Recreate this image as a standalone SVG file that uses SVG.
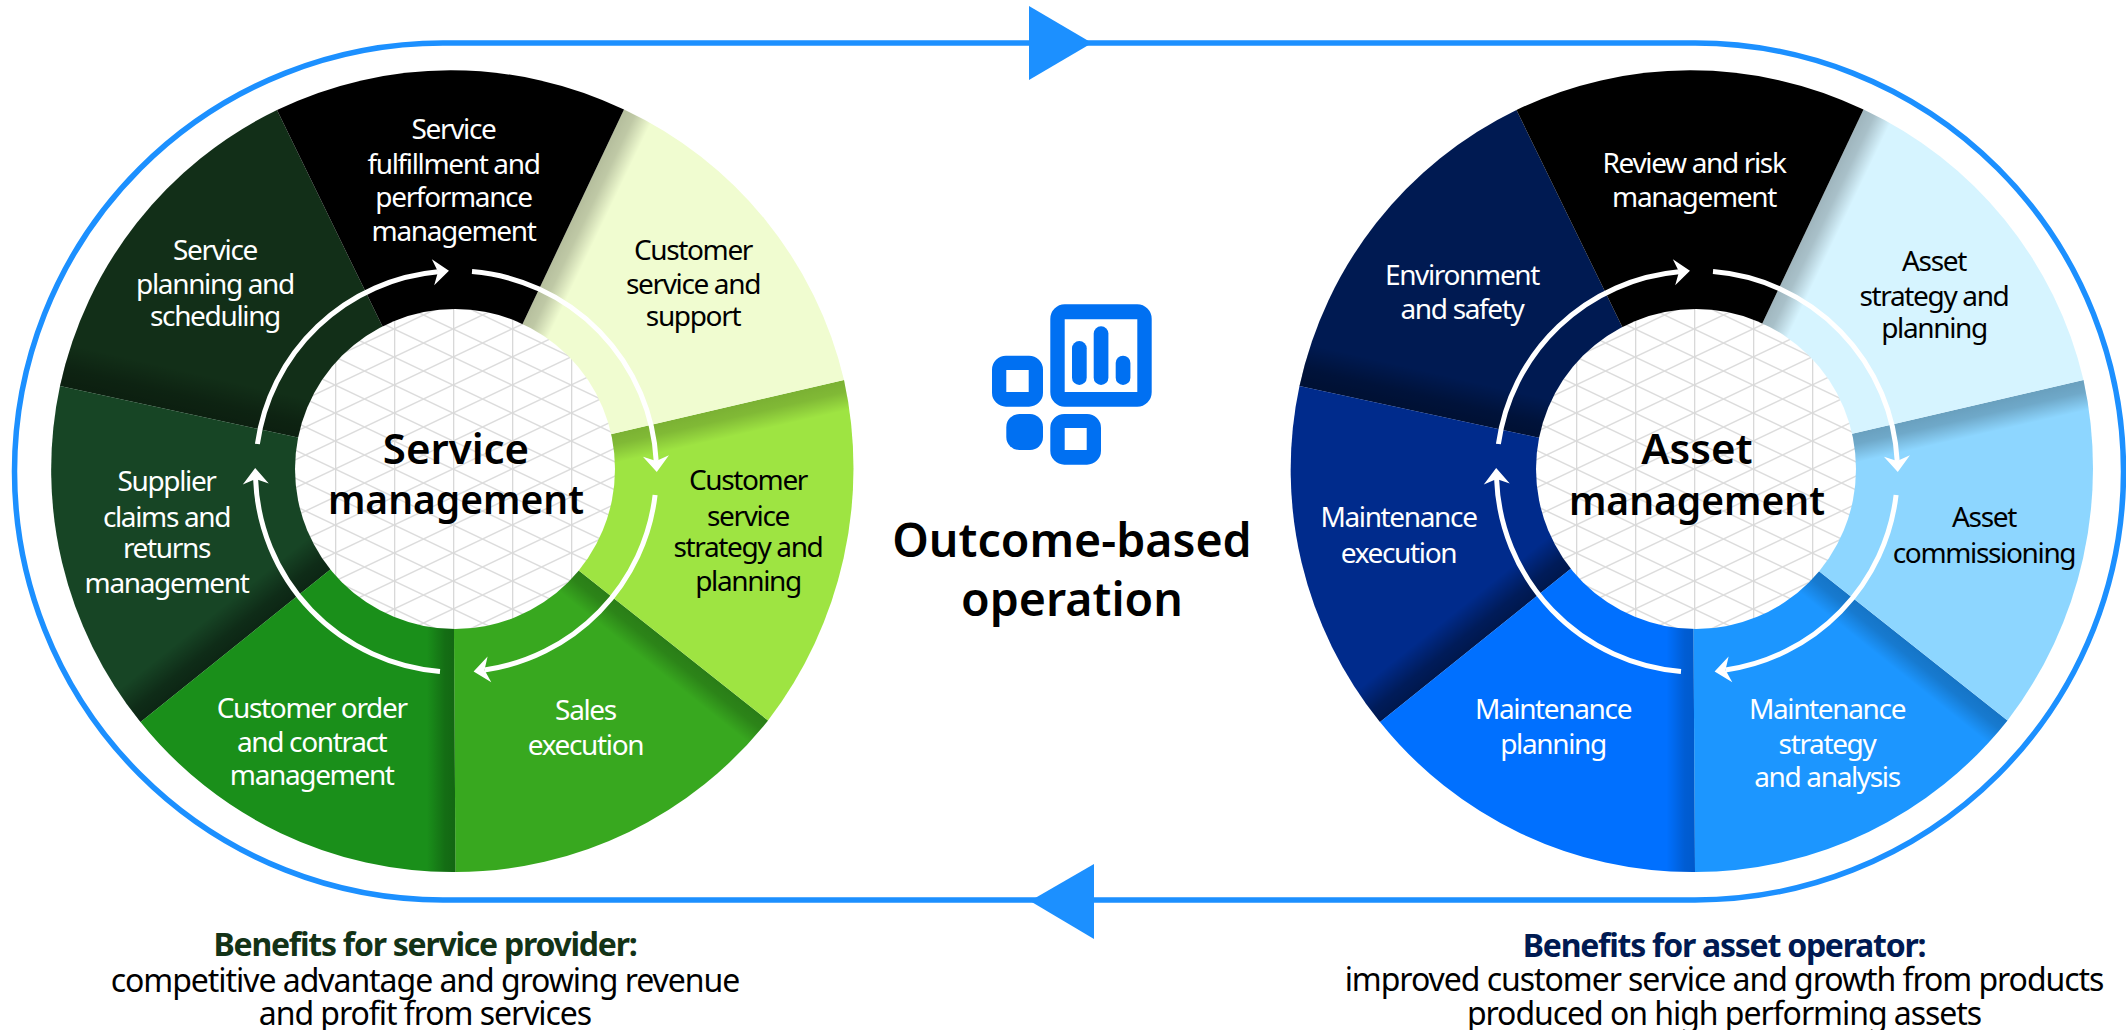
<svg xmlns="http://www.w3.org/2000/svg" width="2126" height="1030" viewBox="0 0 2126 1030">
<style>
text{font-family:"Noto Sans","Open Sans","Liberation Sans",sans-serif;text-anchor:middle}
.w{font-size:28px;fill:#fff;letter-spacing:-1.35px}
.k{font-size:28px;fill:#000;letter-spacing:-1.35px}
.hub{font-size:39px;font-weight:600;fill:#000}
.hub1{font-size:42px}
.ttl{font-size:46.5px;font-weight:600;fill:#000}
.ben{font-size:32px;fill:#000;letter-spacing:-1.05px}
.bh{font-weight:700;letter-spacing:-1.25px}
.arc{fill:none;stroke:#fff;stroke-width:5;marker-end:url(#head)}
.ic{fill:#0070f2}
</style>
<defs>
<marker id="head" markerUnits="userSpaceOnUse" markerWidth="20" markerHeight="30" refX="5" refY="14" orient="auto" overflow="visible"><path d="M0 1L16 14L0 27L5 14Z" fill="#fff"/></marker>
<pattern id="grid" patternUnits="userSpaceOnUse" x="453" y="357" width="59" height="28">
<rect width="59" height="28" fill="#fff"/>
<path d="M0 0L59 28M0 28L59 0" stroke="#dcdcdc" stroke-width="1.5" fill="none"/>
<path d="M0 0V28" stroke="#d8d8d8" stroke-width="2.6" fill="none"/>
</pattern>
<linearGradient id="s1" gradientUnits="userSpaceOnUse" x1="0" y1="0" x2="25.2" y2="12.1"><stop offset="0"/><stop offset=".35" stop-opacity=".85"/><stop offset="1" stop-opacity="0"/></linearGradient>
<linearGradient id="s2" gradientUnits="userSpaceOnUse" x1="0" y1="0" x2="6.2" y2="27.3"><stop offset="0"/><stop offset=".35" stop-opacity=".85"/><stop offset="1" stop-opacity="0"/></linearGradient>
<linearGradient id="s3" gradientUnits="userSpaceOnUse" x1="0" y1="0" x2="-17.5" y2="21.9"><stop offset="0"/><stop offset=".35" stop-opacity=".85"/><stop offset="1" stop-opacity="0"/></linearGradient>
<linearGradient id="s4" gradientUnits="userSpaceOnUse" x1="0" y1="0" x2="-28" y2="0"><stop offset="0"/><stop offset=".35" stop-opacity=".85"/><stop offset="1" stop-opacity="0"/></linearGradient>
<linearGradient id="s5" gradientUnits="userSpaceOnUse" x1="0" y1="0" x2="-24" y2="-30"><stop offset="0"/><stop offset=".35" stop-opacity=".8"/><stop offset="1" stop-opacity="0"/></linearGradient>
<linearGradient id="s6" gradientUnits="userSpaceOnUse" x1="0" y1="0" x2="8.5" y2="-37"><stop offset="0"/><stop offset=".35" stop-opacity=".8"/><stop offset="1" stop-opacity="0"/></linearGradient>
<path id="w0" d="M0 0L-176 -361A401 401 0 0 1 171 -361.5Z"/>
<path id="w1" d="M0 0L171 -361.5A400 400 0 0 1 391 -91Z"/>
<path id="w2" d="M0 0L391 -91A415 415 0 0 1 315 249.5Z"/>
<path id="w3" d="M0 0L0.8 130L2.5 401A400 400 0 0 0 315 249.5Z"/>
<path id="w4" d="M0 0L0.8 130L2.5 401A400 400 0 0 1 -312.5 251Z"/>
<path id="w5" d="M0 0L-312.5 251A401 401 0 0 1 -393 -85Z"/>
<path id="w6" d="M0 0L-393 -85A401 401 0 0 1 -176 -361Z"/>
</defs>
<g id="service-planning"><use href="#w6" x="453" y="471" fill="#122f18"/><use href="#w6" x="453" y="471" fill="url(#s6)" opacity=".32"/><text class="w"><tspan x="215" y="259.5">Service</tspan><tspan x="215" y="293.5">planning and</tspan><tspan x="215" y="325.5">scheduling</tspan></text></g>
<g id="supplier-claims"><use href="#w5" x="453" y="471" fill="#174525"/><use href="#w5" x="453" y="471" fill="url(#s5)" opacity=".45"/><text class="w"><tspan x="166.5" y="490.5">Supplier</tspan><tspan x="166.5" y="526.5">claims and</tspan><tspan x="166.5" y="557.5">returns</tspan><tspan x="166.5" y="592.5">management</tspan></text></g>
<g id="customer-order"><use href="#w4" x="453" y="471" fill="#1a8f1a"/><use href="#w4" x="455" y="471" fill="url(#s4)" opacity=".28"/><text class="w"><tspan x="311.7" y="717.5">Customer order</tspan><tspan x="311.7" y="752">and contract</tspan><tspan x="311.7" y="784.5">management</tspan></text></g>
<g id="sales-execution"><use href="#w3" x="453" y="471" fill="#38a81f"/><use href="#w3" x="453" y="471" fill="url(#s3)" opacity=".25"/><text class="w"><tspan x="585.5" y="719.5">Sales</tspan><tspan x="585.5" y="754.5">execution</tspan></text></g>
<g id="customer-strategy"><use href="#w2" x="453" y="471" fill="#9ee442"/><use href="#w2" x="453" y="471" fill="url(#s2)" opacity=".22"/><text class="k"><tspan x="748" y="490">Customer</tspan><tspan x="748" y="525.5">service</tspan><tspan x="748" y="557">strategy and</tspan><tspan x="748" y="591">planning</tspan></text></g>
<g id="customer-support"><use href="#w1" x="453" y="471" fill="#f0fcd0"/><use href="#w1" x="453" y="471" fill="url(#s1)" opacity=".24"/><text class="k"><tspan x="693" y="259.5">Customer</tspan><tspan x="693" y="293.5">service and</tspan><tspan x="693" y="325.5">support</tspan></text></g>
<g id="service-fulfillment"><use href="#w0" x="453" y="471" fill="#000"/><text class="w"><tspan x="453.5" y="138.5">Service</tspan><tspan x="453.5" y="173.5">fulfillment and</tspan><tspan x="453.5" y="206.5">performance</tspan><tspan x="453.5" y="240.5">management</tspan></text></g>
<g id="service-hub"><circle cx="455" cy="469" r="160" fill="url(#grid)"/><text class="hub"><tspan x="456" y="464" class="hub1">Service</tspan><tspan x="456" y="514">management</tspan></text></g>

<g id="environment-safety"><use href="#w6" x="1692.5" y="471" fill="#001a52"/><use href="#w6" x="1692.5" y="471" fill="url(#s6)" opacity=".36"/><text class="w"><tspan x="1462" y="284.5">Environment</tspan><tspan x="1462" y="318.5">and safety</tspan></text></g>
<g id="maintenance-execution"><use href="#w5" x="1692.5" y="471" fill="#002b8c"/><use href="#w5" x="1692.5" y="471" fill="url(#s5)" opacity=".45"/><text class="w"><tspan x="1398.5" y="527">Maintenance</tspan><tspan x="1398.5" y="562.5">execution</tspan></text></g>
<g id="maintenance-planning"><use href="#w4" x="1692.5" y="471" fill="#0070ff"/><use href="#w4" x="1694.5" y="471" fill="url(#s4)" opacity=".2"/><text class="w"><tspan x="1553" y="718.5">Maintenance</tspan><tspan x="1553" y="753.5">planning</tspan></text></g>
<g id="maintenance-strategy"><use href="#w3" x="1692.5" y="471" fill="#1c96ff"/><use href="#w3" x="1692.5" y="471" fill="url(#s3)" opacity=".22"/><text class="w"><tspan x="1827" y="719">Maintenance</tspan><tspan x="1827" y="754">strategy</tspan><tspan x="1827" y="786.5">and analysis</tspan></text></g>
<g id="asset-commissioning"><use href="#w2" x="1692.5" y="471" fill="#8dd6ff"/><use href="#w2" x="1692.5" y="471" fill="url(#s2)" opacity=".25"/><text class="k"><tspan x="1984" y="527">Asset</tspan><tspan x="1984" y="562.5">commissioning</tspan></text></g>
<g id="asset-strategy"><use href="#w1" x="1692.5" y="471" fill="#d6f4ff"/><use href="#w1" x="1692.5" y="471" fill="url(#s1)" opacity=".25"/><text class="k"><tspan x="1934" y="271">Asset</tspan><tspan x="1934" y="305.5">strategy and</tspan><tspan x="1934" y="337.5">planning</tspan></text></g>
<g id="review-risk"><use href="#w0" x="1692.5" y="471" fill="#000"/><text class="w"><tspan x="1694" y="173">Review and risk</tspan><tspan x="1694" y="207">management</tspan></text></g>
<g id="asset-hub"><circle cx="455" cy="469" r="160" fill="url(#grid)" transform="translate(1241 0)"/><text class="hub"><tspan x="1697" y="464" class="hub1">Asset</tspan><tspan x="1697" y="515">management</tspan></text></g>

<g id="center-icon">
<path class="ic" fill-rule="evenodd" d="M1065 304.3H1137A14.5 14.5 0 0 1 1151.7 319V392A14.5 14.5 0 0 1 1137 406.7H1065A14.5 14.5 0 0 1 1050.3 392V319A14.5 14.5 0 0 1 1065 304.3ZM1064.7 319.3V392H1137.3V319.3Z"/>
<rect class="ic" x="1072" y="341" width="14.7" height="44" rx="7.3"/><rect class="ic" x="1093.7" y="326.3" width="14.7" height="58.7" rx="7.3"/><rect class="ic" x="1115.7" y="355.7" width="14.7" height="29.3" rx="7.3"/>
<path class="ic" fill-rule="evenodd" d="M1006 355.7H1029A14 14 0 0 1 1043 369.7V392.7A14 14 0 0 1 1029 406.7H1006A14 14 0 0 1 992 392.7V369.7A14 14 0 0 1 1006 355.7ZM1006.3 370V392H1028.7V370Z"/>
<rect class="ic" x="1006.3" y="414" width="36.7" height="36" rx="13"/>
<path class="ic" fill-rule="evenodd" d="M1064.3 414H1087A14 14 0 0 1 1101 428V450.7A14 14 0 0 1 1087 464.7H1064.3A14 14 0 0 1 1050.3 450.7V428A14 14 0 0 1 1064.3 414ZM1064.7 428V450H1086.7V428Z"/>
</g>
<g id="center-title"><text class="ttl"><tspan x="1072" y="557">Outcome-based</tspan><tspan x="1072" y="615.5">operation</tspan></text></g>

<g id="benefits-provider"><text class="ben"><tspan x="425" y="956" class="bh" style="fill:#133317">Benefits for service provider:</tspan><tspan x="425" y="991.5">competitive advantage and growing revenue</tspan><tspan x="425" y="1024.5">and profit from services</tspan></text></g>
<g id="benefits-operator"><text class="ben"><tspan x="1724" y="957" class="bh" style="fill:#001a52">Benefits for asset operator:</tspan><tspan x="1724" y="991">improved customer service and growth from products</tspan><tspan x="1724" y="1025">produced on high performing assets</tspan></text></g>

<g id="connectors">
<path d="M443 43H1695A428.5 428.5 0 0 1 1695 900H443A428.5 428.5 0 0 1 443 43Z" fill="none" stroke="#1c90ff" stroke-width="5.5"/>
<path d="M1029 6L1092 43L1029 80Z" fill="#1c90ff"/>
<path d="M1094 864L1030 901L1094 939Z" fill="#1c90ff"/>
<g id="service-arrows">
<path class="arc" d="M472 271.6A200.5 200.5 0 0 1 656.2 461"/>
<path class="arc" d="M655.1 495A200.5 200.5 0 0 1 484.5 670"/>
<path class="arc" d="M440 671.4A200.5 200.5 0 0 1 255.6 479"/>
<path class="arc" d="M257.4 444A200.5 200.5 0 0 1 438 271.8"/>
</g>
<g id="asset-arrows" transform="translate(1241 0)">
<path class="arc" d="M472 271.6A200.5 200.5 0 0 1 656.2 461"/>
<path class="arc" d="M655.1 495A200.5 200.5 0 0 1 484.5 670"/>
<path class="arc" d="M440 671.4A200.5 200.5 0 0 1 255.6 479"/>
<path class="arc" d="M257.4 444A200.5 200.5 0 0 1 438 271.8"/>
</g>
</g>
</svg>
